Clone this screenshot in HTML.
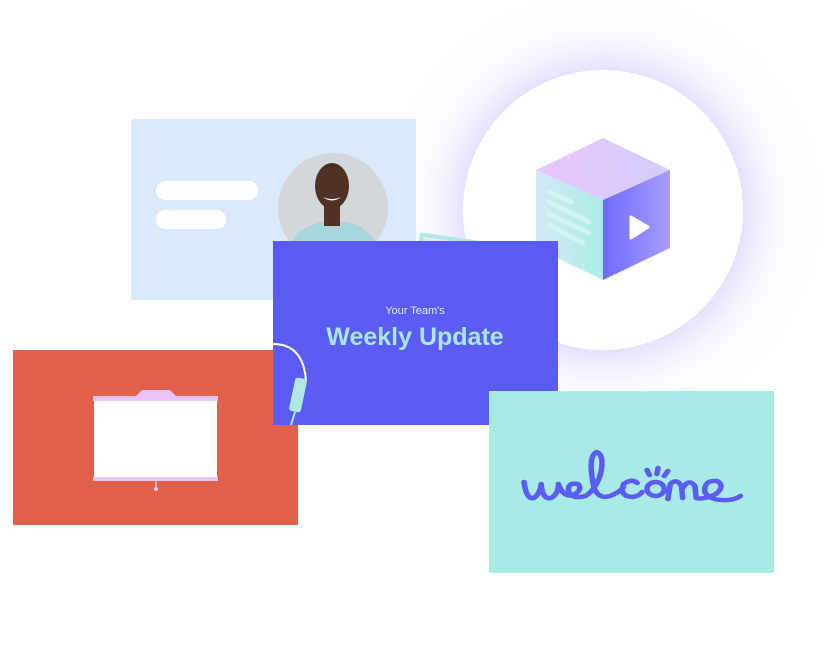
<!DOCTYPE html>
<html><head><meta charset="utf-8"><style>
html,body{margin:0;padding:0;background:#fff;}
body{width:832px;height:666px;overflow:hidden;position:relative;font-family:"Liberation Sans",sans-serif;}
</style></head><body>
<svg width="832" height="666" viewBox="0 0 832 666" xmlns="http://www.w3.org/2000/svg">
<defs>
<radialGradient id="glow" cx="603" cy="210" r="230" gradientUnits="userSpaceOnUse">
<stop offset="0.58" stop-color="#b8b0ff" stop-opacity="0.45"/>
<stop offset="0.75" stop-color="#d8d4ff" stop-opacity="0.18"/>
<stop offset="1" stop-color="#ffffff" stop-opacity="0"/>
</radialGradient>
<linearGradient id="top" x1="0" x2="1"><stop offset="0" stop-color="#e9c6fb"/><stop offset="1" stop-color="#d4ccff"/></linearGradient>
<linearGradient id="left" x1="0" x2="1"><stop offset="0" stop-color="#d6e6f6"/><stop offset="1" stop-color="#aaeee4"/></linearGradient>
<linearGradient id="right" x1="0" x2="1"><stop offset="0" stop-color="#6d6cff"/><stop offset="1" stop-color="#a99cff"/></linearGradient>
<clipPath id="cc"><circle cx="333" cy="208" r="55"/></clipPath>
</defs>
<circle cx="603" cy="210" r="230" fill="url(#glow)"/>
<rect x="131" y="119" width="285" height="181" fill="#dbeafb"/>
<rect x="156" y="181" width="102" height="19" rx="9.5" fill="#fff"/>
<rect x="156" y="210" width="70" height="19" rx="9.5" fill="#fff"/>
<circle cx="333" cy="208" r="55" fill="#d3d6da"/>
<g clip-path="url(#cc)">
<path d="M283 265 Q290 228 322 222 L346 222 Q378 228 382 265 Z" fill="#a9d5dc"/>
<rect x="324" y="204" width="16" height="22" fill="#4f3224"/>
<ellipse cx="332" cy="186" rx="17" ry="23" fill="#4f3224"/>
<path d="M315 178 Q332 152 349 178 Q340 165 332 166 Q322 166 315 178Z" fill="#2a1d16"/>
<path d="M323 197 Q332 204 341 197 Q332 201 323 197Z" fill="#fff"/>
</g>
<circle cx="603" cy="210" r="140" fill="#fff"/>
<g transform="rotate(8 445 250)">
<rect x="418" y="236" width="60" height="22" fill="#aee7e4"/>
<rect x="422" y="240" width="52" height="15" fill="#e7e8fb"/>
</g>
<path d="M478 241 L470 270 L463 280 L463 241Z" fill="#fff"/>
<polygon points="603,138 670,170 603,200 536,170" fill="url(#top)"/>
<polygon points="536,170 603,200 603,280 536,248" fill="url(#left)"/>
<polygon points="603,200 670,170 670,248 603,280" fill="url(#right)"/>
<g stroke="#d6f6f2" stroke-width="5" stroke-linecap="round" opacity="0.85">
<line x1="549" y1="192" x2="571" y2="202"/>
<line x1="549" y1="202" x2="589" y2="222"/>
<line x1="549" y1="214" x2="589" y2="233"/>
<line x1="549" y1="225" x2="583" y2="243"/>
</g>
<path d="M631 217 L648 227 L631 238 Z" fill="#fff" stroke="#fff" stroke-width="3" stroke-linejoin="round"/>
<rect x="13" y="350" width="285" height="175" fill="#e0604a"/>
<path d="M136 396 L142 390 L170 390 L176 396Z" fill="#e9c4fb"/>
<rect x="93" y="396" width="125" height="5" fill="#e9c4fb"/>
<rect x="94" y="401" width="123" height="76" fill="#fff"/>
<rect x="93" y="477" width="125" height="4" fill="#e9c4fb"/>
<line x1="156" y1="481" x2="156" y2="488" stroke="#e9c4fb" stroke-width="1.5"/>
<circle cx="156" cy="489" r="2" fill="#e9c4fb"/>
<rect x="273" y="241" width="285" height="184" fill="#5b5cf4"/>
<text x="415" y="314" font-size="11" fill="#d8e9f9" text-anchor="middle">Your Team's</text>
<text x="415" y="345" font-size="25" font-weight="bold" fill="#a9e6e4" text-anchor="middle">Weekly Update</text>
<path d="M273 344 Q304 344 306 382" fill="none" stroke="#fff" stroke-width="2"/>
<rect x="292" y="378" width="12" height="34" rx="3" fill="#aeeae3" transform="rotate(12 298 395)"/>
<path d="M295 412 L291 425" stroke="#aeeae3" stroke-width="2"/>
<rect x="489" y="391" width="285" height="182" fill="#a8ebe6"/>
<g transform="translate(524 0) scale(1.23 1) translate(-524 0)" fill="none" stroke="#5b5cf4" stroke-width="4.5" stroke-linecap="round" stroke-linejoin="round">
<path d="M524 482 Q526 500 532 498 Q537 494 538 484 Q539 500 546 498 Q552 494 552 484 Q556 498 564 495 Q572 490 568 484 Q560 482 560 490 Q562 500 574 496 Q582 490 586 475 Q590 455 583 452 Q576 456 580 482 Q582 500 594 496 Q602 492 605 487"/>
<path d="M616 483 Q612 478 605 484 Q601 496 612 497 Q618 496 620 492"/>
<circle cx="631" cy="489" r="7"/>
<path d="M641 499 L643 484 Q648 478 652 486 L653 498 M653 488 Q658 478 663 486 L664 498 Q670 500 680 494 Q688 486 681 481 Q670 480 671 492 Q675 501 690 500 Q697 499 700 496"/>
<path d="M626 475 L624 470 M632 474 L633 468 M638 476 L641 471"/>
</g>
</svg>
</body></html>
